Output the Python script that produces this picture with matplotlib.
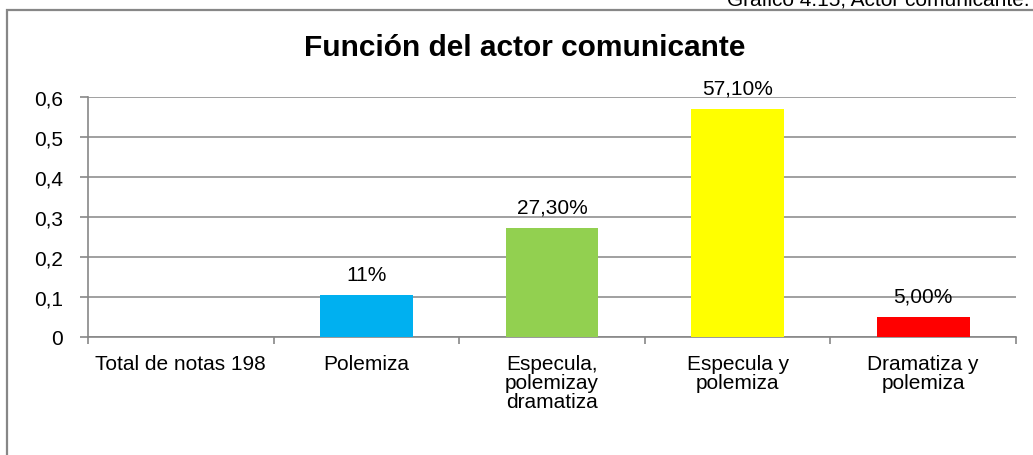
import matplotlib.pyplot as plt
from matplotlib.patches import Rectangle

plt.rcParams['font.family'] = ['Liberation Sans', 'DejaVu Sans']

# datos
categorias = ["Total de notas 198", "Polemiza", "Especula,\npolemizay\ndramatiza",
              "Especula y\npolemiza", "Dramatiza y\npolemiza"]
valores = [0, 0.105, 0.273, 0.571, 0.05]
etiquetas = ["", "11%", "27,30%", "57,10%", "5,00%"]
colores = ["#4472c4", "#00b0f0", "#92d050", "#ffff00", "#ff0000"]
y_ticks = [0, 0.1, 0.2, 0.3, 0.4, 0.5, 0.6]
y_labels = ["0", "0,1", "0,2", "0,3", "0,4", "0,5", "0,6"]

W, H = 1033, 456
fs = 15
fig = plt.figure(figsize=(W / 100, H / 100), dpi=100)

# marco del gráfico
fig.patches.append(Rectangle((7 / W, -0.05), 1.1, 1 - 11 / H + 0.05,
                             transform=fig.transFigure, fill=False,
                             edgecolor="#878787", linewidth=1.6))

fig.text(1030 / W, 1 - 6 / H, "Gráfico 4.15, Actor comunicante.", ha="right",
         va="baseline", fontsize=fs)

ax = fig.add_axes([88 / W, 1 - 338 / H, (1016 - 88) / W, (338 - 98) / H])
x = range(len(categorias))
bars = ax.bar(x, valores, width=0.5, color=colores, zorder=3)
for b, t in zip(bars, etiquetas):
    ax.text(b.get_x() + b.get_width() / 2, b.get_height() + 0.028, t,
            ha="center", va="bottom", fontsize=fs)

ax.set_xlim(-0.5, len(categorias) - 0.5)
ax.set_ylim(0, 0.6)
ax.set_yticks(y_ticks)
ax.set_yticklabels(y_labels, fontsize=fs)
ax.set_xticks(list(x))
ax.set_xticklabels(categorias, fontsize=fs, linespacing=1.0, va="top")
ax.set_xticks([i - 0.5 for i in range(len(categorias) + 1)], minor=True)
ax.tick_params(axis="x", which="major", length=0, pad=12)
ax.tick_params(axis="x", which="minor", length=5, color="#878787", width=1.2)
ax.tick_params(axis="y", length=6, color="#878787", width=1.2, pad=12)
ax.grid(axis="y", color="#868686", linewidth=1.1, zorder=0)
ax.set_axisbelow(True)
for s in ["top", "right"]:
    ax.spines[s].set_visible(False)
for s in ["left", "bottom"]:
    ax.spines[s].set_color("#878787")
    ax.spines[s].set_linewidth(1.2)

fig.text(525 / W, 1 - 48 / H, "Función del actor comunicante", ha="center",
         va="center", fontsize=21.5, fontweight="bold")

fig.savefig("out.png", dpi=100)
